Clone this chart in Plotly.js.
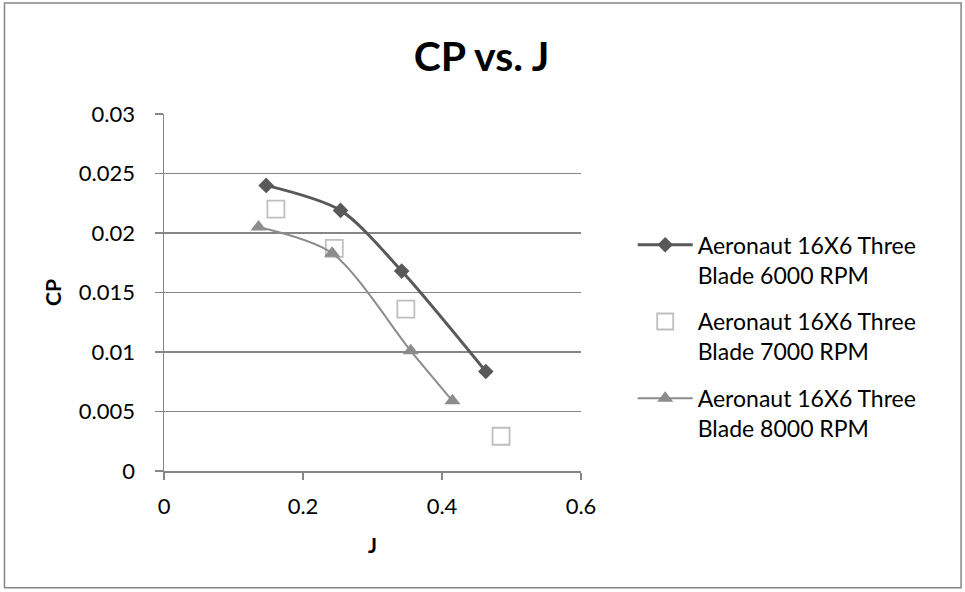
<!DOCTYPE html>
<html>
<head>
<meta charset="utf-8">
<script src="https://cdn.plot.ly/plotly-3.0.1.min.js"></script>
<style>html,body{margin:0;padding:0;background:#fff;}#chart{width:965px;height:592px;}</style>
</head>
<body>
<div id="chart"></div>
<script>
const seriesNames = [
  "Aeronaut 16X6 Three<br>Blade 6000 RPM",
  "Aeronaut 16X6 Three<br>Blade 7000 RPM",
  "Aeronaut 16X6 Three<br>Blade 8000 RPM"
];
const j6000 = [0.147, 0.254, 0.342, 0.463];
const cp6000 = [0.0240, 0.0219, 0.0168, 0.00836];
const j7000 = [0.161, 0.245, 0.348, 0.485];
const cp7000 = [0.0220, 0.0187, 0.0136, 0.00292];
const j8000 = [0.136, 0.242, 0.355, 0.415];
const cp8000 = [0.0205, 0.0183, 0.0101, 0.0059];
const xTicks = [0, 0.2, 0.4, 0.6];
const yTicks = [0, 0.005, 0.01, 0.015, 0.02, 0.025, 0.03];

const FONT = "Lato, 'Open Sans', 'Liberation Sans', sans-serif";

const traces = [
  {x: j6000, y: cp6000, name: seriesNames[0], legendgroup: "g1", mode: "lines+markers",
   line: {color: "#595959", width: 3, shape: "spline", smoothing: 0.8},
   marker: {symbol: "diamond", size: 12, color: "#595959"}},
  {x: j7000, y: cp7000, name: seriesNames[1], legendgroup: "g2", mode: "markers",
   marker: {symbol: "square-open", size: 17, color: "#bfbfbf", line: {width: 1.8, color: "#bfbfbf"}}},
  {x: j8000, y: cp8000, name: seriesNames[2], legendgroup: "g3", mode: "lines+markers",
   line: {color: "#8c8c8c", width: 2, shape: "spline", smoothing: 0.8},
   marker: {symbol: "triangle-up", size: 14, color: "#8c8c8c"}}
];

const layout = {
  width: 965, height: 592,
  margin: {l: 164, r: 384, t: 114, b: 121},
  paper_bgcolor: "#fff", plot_bgcolor: "#fff",
  font: {family: FONT, color: "#000", size: 22},
  title: {text: "<b>CP vs. J</b>", x: 0.499, xanchor: "center", y: 0.904, yanchor: "middle",
          font: {family: FONT, size: 41, color: "#000"}},
  xaxis: {range: [0, 0.6], tickvals: xTicks, ticktext: xTicks.map(String),
          showgrid: false, zeroline: false, showline: true, linecolor: "#868686", linewidth: 1.5,
          ticks: "outside", ticklen: 7, tickcolor: "#868686", tickwidth: 1.5, ticklabelstandoff: 8,
          tickfont: {size: 22}, fixedrange: true,
          title: {text: "<b>J</b>", font: {size: 21}, standoff: 20}},
  yaxis: {range: [0, 0.03], tickvals: yTicks, ticktext: yTicks.map(String),
          showgrid: true, gridcolor: "#868686", gridwidth: 1.5, zeroline: false,
          showline: true, linecolor: "#868686", linewidth: 1.5,
          ticks: "outside", ticklen: 8, tickcolor: "#868686", tickwidth: 1.5, ticklabelstandoff: 15,
          tickfont: {size: 22}, fixedrange: true,
          title: {text: "<b>CP</b>", font: {size: 21}, standoff: 11}},
  legend: {x: 1.124, xanchor: "left", y: 0.376, yanchor: "middle", valign: "top",
           font: {size: 23, family: FONT}, tracegroupgap: 14, itemwidth: 55,
           bgcolor: "rgba(0,0,0,0)"},
  showlegend: true,
  shapes: [{type: "rect", xref: "paper", yref: "paper",
            x0: -0.3825, x1: 1.9115, y0: -0.327, y1: 1.311,
            line: {color: "#868686", width: 1.5}, fillcolor: "rgba(0,0,0,0)", layer: "below"}]
};

Plotly.newPlot("chart", traces, layout, {displayModeBar: false, staticPlot: true});
</script>
</body>
</html>
